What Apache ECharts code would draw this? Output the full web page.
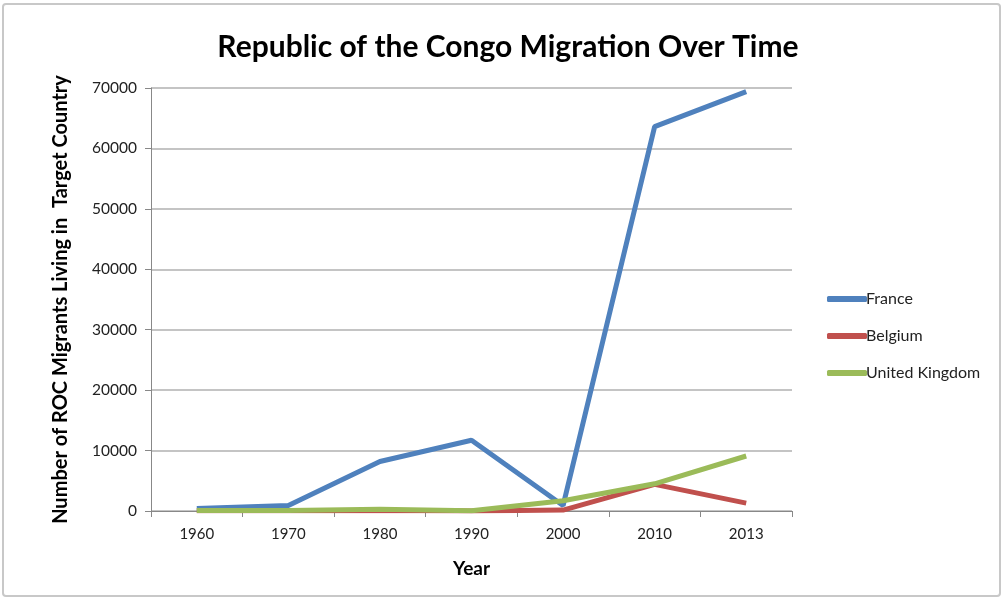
<!DOCTYPE html>
<html><head><meta charset="utf-8">
<script src="https://cdn.jsdelivr.net/npm/echarts@6/dist/echarts.min.js"></script>
<style>
html,body{margin:0;padding:0;background:#fff;}
#frame{position:absolute;left:2px;top:3px;width:999px;height:594px;border:2px solid #c8c8c8;border-radius:4px;box-sizing:border-box;}
#c{position:absolute;left:0;top:0;width:1008px;height:602px;}
</style></head>
<body><div id="frame"></div><div id="c"></div>
<script>
const years = ['1960','1970','1980','1990','2000','2010','2013'];
const france = [400, 900, 8200, 11700, 900, 63600, 69400];
const belgium = [50, 50, 100, 0, 150, 4400, 1300];
const uk = [100, 100, 300, 50, 1700, 4500, 9100];
const yTicks = [0, 10000, 20000, 30000, 40000, 50000, 60000, 70000];

const font = 'Lato, "Open Sans", sans-serif';
const chart = echarts.init(document.getElementById('c'));
chart.setOption({
  animation: false,
  title: {text: 'Republic of the Congo Migration Over Time', left: 503, textAlign: 'center', top: 27,
    textStyle: {fontFamily: font, fontWeight: 'bold', fontSize: 30, color: '#000'}},
  grid: {left: 151, right: 216, top: 88, bottom: 91},
  legend: {orient: 'vertical', left: 822, top: 286, itemGap: 21, itemWidth: 40, itemHeight: 6,
    icon: 'roundRect',
    textStyle: {fontFamily: font, fontSize: 16, color: '#222', padding: [0,0,0,-6]},
    data: ['France','Belgium','United Kingdom']},
  xAxis: {type: 'category', data: years, boundaryGap: true,
    name: 'Year', nameLocation: 'middle', nameGap: 48,
    nameTextStyle: {fontFamily: font, fontWeight: 'bold', fontSize: 19, color: '#000'},
    axisLine: {lineStyle: {color: '#888', width: 1}},
    axisTick: {show: true, length: 6, lineStyle: {color: '#888'}},
    axisLabel: {fontFamily: font, fontSize: 15, color: '#222', margin: 16}},
  yAxis: {type: 'value', min: 0, max: 70000, interval: 10000,
    name: 'Number of ROC Migrants Living in  Target Country', nameLocation: 'middle', nameGap: 80,
    nameTextStyle: {fontFamily: font, fontWeight: 'bold', fontSize: 20, color: '#000'},
    axisLine: {show: true, lineStyle: {color: '#888', width: 1}},
    axisTick: {show: true, length: 6, lineStyle: {color: '#888'}},
    axisLabel: {fontFamily: font, fontSize: 15.5, color: '#222', margin: 14,
      formatter: v => yTicks.includes(v) ? String(v) : ''},
    splitLine: {lineStyle: {color: '#c4c4c4', width: 2}}},
  series: [
    {name: 'France', type: 'line', data: france, symbol: 'none', lineStyle: {width: 5, color: '#4f81bd'}, itemStyle: {color: '#4f81bd'}, z: 2},
    {name: 'Belgium', type: 'line', data: belgium, symbol: 'none', lineStyle: {width: 5, color: '#c0504d'}, itemStyle: {color: '#c0504d'}, z: 3},
    {name: 'United Kingdom', type: 'line', data: uk, symbol: 'none', lineStyle: {width: 5, color: '#9bbb59'}, itemStyle: {color: '#9bbb59'}, z: 4}
  ]
});
</script></body></html>
